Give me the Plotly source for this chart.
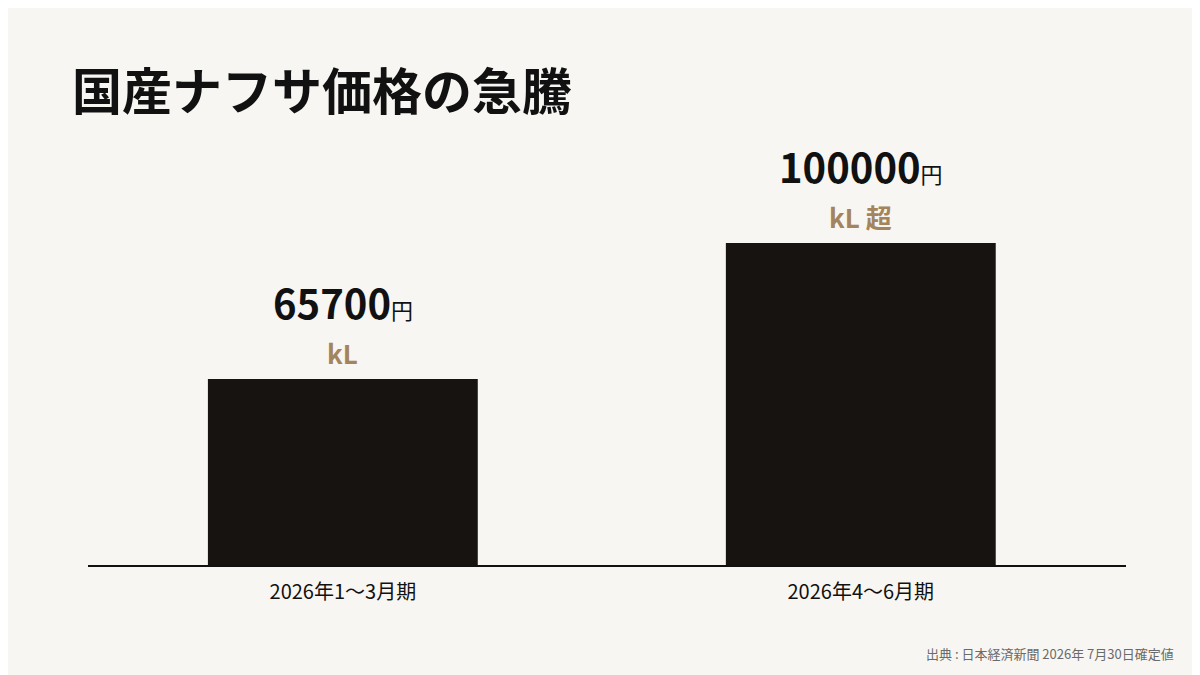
import plotly.graph_objects as go

categories = ["2026年1〜3月期", "2026年4〜6月期"]
prices = [65700, 100000]
price_labels = ["65700", "100000"]
unit_labels = ["kL", "kL 超"]

FONT = "Noto Sans CJK JP"
BG = "#f8f6f2"
BAR = "#161310"
ACCENT = "#a3845c"

fig = go.Figure(go.Bar(
    x=[0, 1], y=prices, width=0.521,
    marker=dict(color=BAR, line=dict(width=0)),
    hoverinfo="skip",
))

for i, (v, p, u) in enumerate(zip(prices, price_labels, unit_labels)):
    fig.add_annotation(
        x=i, y=v, xref="x", yref="y", yanchor="bottom", yshift=46, showarrow=False,
        text=f"<b>{p}</b><span style='font-size:22px'>円</span>",
        font=dict(family=FONT, size=40, color="#111111"),
    )
    fig.add_annotation(
        x=i, y=v, xref="x", yref="y", yanchor="bottom", yshift=6, showarrow=False,
        text=f"<b>{u}</b>",
        font=dict(family=FONT, size=26, color=ACCENT),
    )

# the plot area runs from x 80 to 1118 and y 150 to 557 in pixels
fig.add_annotation(
    x=(62 - 80) / 1038, y=(557 - 80) / 407, xref="paper", yref="paper",
    xanchor="left", yanchor="middle", showarrow=False,
    text="<b>国産ナフサ価格の急騰</b>",
    font=dict(family=FONT, size=50, color="#111111"),
)
fig.add_annotation(
    x=(1168 - 80) / 1038, y=(557 - 645) / 407, xref="paper", yref="paper",
    xanchor="right", yanchor="middle", showarrow=False,
    text="出典 : 日本経済新聞 2026年 7月30日確定値",
    font=dict(family=FONT, size=13, color="#6a6a6a"),
)

fig.update_layout(
    width=1200, height=675,
    paper_bgcolor=BG, plot_bgcolor=BG,
    margin=dict(l=80, r=82, t=150, b=118),
    showlegend=False,
    font=dict(family=FONT),
    xaxis=dict(
        range=[-0.492, 1.512], tickvals=[0, 1], ticktext=categories,
        showgrid=False, zeroline=False, showline=True, linecolor="#111111", linewidth=2,
        ticks="", ticklabelstandoff=8,
        tickfont=dict(family=FONT, size=20, color="#111111"),
    ),
    yaxis=dict(range=[18790, 121440], visible=False, showgrid=False),
)

fig.write_html("out.html")
